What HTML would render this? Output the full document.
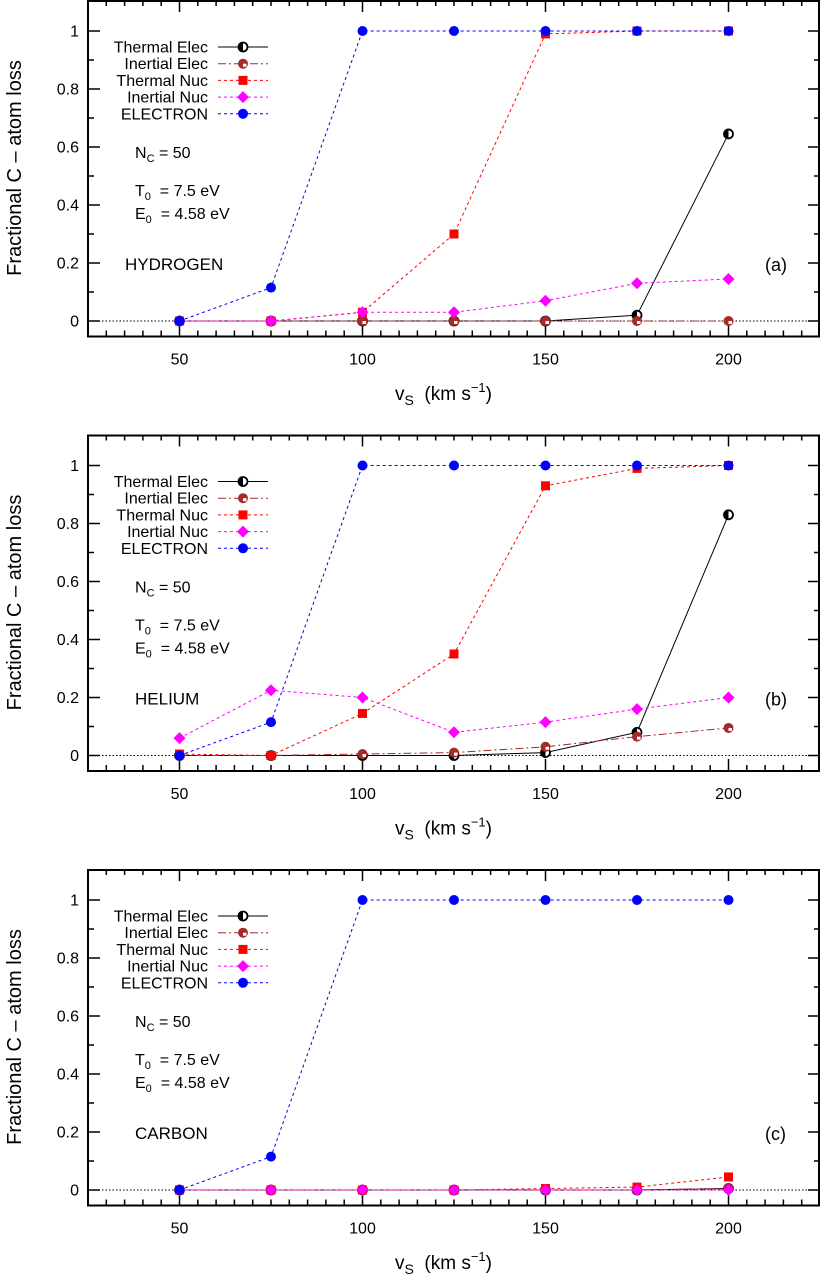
<!DOCTYPE html>
<html><head><meta charset="utf-8"><style>
body{margin:0;background:#fff}
svg{display:block;font-family:"Liberation Sans",sans-serif}
text{white-space:pre}
</style></head><body>
<svg id="c" width="821" height="1277" viewBox="0 0 821 1277"></svg>
<script>
const categories=[50,75,100,125,150,175,200];
const xTicks=[50,100,150,200];
const yTicks=[0,0.2,0.4,0.6,0.8,1];
const yTickLabels=["0","0.2","0.4","0.6","0.8","1"];
const panelNames=["HYDROGEN","HELIUM","CARBON"];
const panelTags=["(a)","(b)","(c)"];
const thermalElecA=[0,0,0,0,0,0.02,0.645];
const inertialElecA=[0,0,0,0,0,0,0];
const thermalNucA=[0,0,0.03,0.30,0.99,1,1];
const inertialNucA=[0,0,0.03,0.03,0.07,0.13,0.145];
const electronA=[0,0.115,1,1,1,1,1];
const thermalElecB=[0,0,0,0,0.01,0.08,0.83];
const inertialElecB=[0,0,0.005,0.01,0.03,0.065,0.095];
const thermalNucB=[0.005,0,0.145,0.35,0.93,0.99,1];
const inertialNucB=[0.06,0.225,0.2,0.08,0.115,0.16,0.2];
const electronB=[0,0.115,1,1,1,1,1];
const thermalElecC=[0,0,0,0,0,0,0.005];
const inertialElecC=[0,0,0,0,0,0,0.005];
const thermalNucC=[0,0,0,0,0.005,0.01,0.045];
const inertialNucC=[0,0,0,0,0,0,0];
const electronC=[0,0.115,1,1,1,1,1];
const panelData=[[thermalElecA,inertialElecA,thermalNucA,inertialNucA,electronA],
[thermalElecB,inertialElecB,thermalNucB,inertialNucB,electronB],
[thermalElecC,inertialElecC,thermalNucC,inertialNucC,electronC]];
const seriesNames=["Thermal Elec","Inertial Elec","Thermal Nuc","Inertial Nuc","ELECTRON"];
const NS="http://www.w3.org/2000/svg";
const svg=document.getElementById('c');
function mk(t,a,p){const e=document.createElementNS(NS,t);for(const k in a)e.setAttribute(k,a[k]);(p||svg).appendChild(e);return e;}
const L=88,R=820,xmin=25,xmax=225;
const styles=[{c:"#000",d:"",draw:"te"},{c:"#a52a2a",d:"8,3,2,3",draw:"ie"},{c:"#ff0000",d:"3,3",draw:"sq"},{c:"#ff00ff",d:"3,3",draw:"di"},{c:"#0000ff",d:"3,3",draw:"ci"}];
function marker(g,type,x,y){
 if(type==="te"){mk('circle',{cx:x,cy:y,r:4.5,fill:'#fff',stroke:'#000','stroke-width':1.8},g);mk('path',{d:`M${x},${y-4.5}A4.5,4.5 0 0 0 ${x},${y+4.5}Z`,fill:'#000'},g);}
 else if(type==="ie"){mk('circle',{cx:x,cy:y,r:5,fill:'#a52a2a'},g);mk('path',{d:`M${x},${y}h3.5v3h-3.5z`,fill:'#fff'},g);}
 else if(type==="sq")mk('rect',{x:x-4.5,y:y-4.5,width:9,height:9,fill:'#ff0000'},g);
 else if(type==="di")mk('path',{d:`M${x},${y-6}L${x+6},${y}L${x},${y+6}L${x-6},${y}Z`,fill:'#ff00ff'},g);
 else mk('circle',{cx:x,cy:y,r:5,fill:'#0000ff'},g);
}
for(let p=0;p<3;p++){
 const off=p*434.5, T=off+0, B=off+336.5;
 const X=v=>L+(v-xmin)/(xmax-xmin)*(R-L);
 const Y=v=>(off+321)-(v)*290;
 const g=mk('g',{});
 
 
 mk('line',{x1:L,x2:R,y1:Y(0),y2:Y(0),stroke:'#000','stroke-dasharray':'1.5,2','stroke-width':1},g);
 for(let v=30;v<=220;v+=5){const big=xTicks.includes(v);const len=big?12:6;
  mk('line',{x1:X(v),x2:X(v),y1:B,y2:B-len,stroke:'#000','stroke-width':1.5},g);
  mk('line',{x1:X(v),x2:X(v),y1:T,y2:T+len,stroke:'#000','stroke-width':1.5},g);}
 xTicks.forEach(v=>{const t=mk('text',{x:X(v),y:B+28,'text-anchor':'middle','font-size':16},g);t.textContent=v;});
 for(let i=0;i<=10;i++){const v=i*0.1;const big=i%2===0;const len=big?12:6;
  mk('line',{x1:L,x2:L+len,y1:Y(v),y2:Y(v),stroke:'#000','stroke-width':1.5},g);
  mk('line',{x1:R,x2:R-len,y1:Y(v),y2:Y(v),stroke:'#000','stroke-width':1.5},g);}
 yTicks.forEach((v,i)=>{const t=mk('text',{x:79,y:Y(v)+5.5,'text-anchor':'end','font-size':16},g);t.textContent=yTickLabels[i];});
 mk('rect',{x:L,y:T+1,width:R-L-1,height:B-T-1,fill:'none',stroke:'#000','stroke-width':2},g);
 panelData[p].forEach((arr,si)=>{const s=styles[si];
  const sg=mk('g',{},g);
  
  
  mk('polyline',{points:arr.map((v,i)=>X(categories[i])+','+Y(v)).join(' '),fill:'none',stroke:s.c,'stroke-width':1,'stroke-dasharray':s.d},sg);
  arr.forEach((v,i)=>marker(sg,s.draw,X(categories[i]),Y(v)));
 });
 const lg=mk('g',{},g);
 
 
 seriesNames.forEach((n,i)=>{const y=off+47+i*16.7;const s=styles[i];
  const t=mk('text',{x:208,y:y+5.5,'text-anchor':'end','font-size':16},lg);t.textContent=n;
  mk('line',{x1:218,x2:268,y1:y,y2:y,stroke:s.c,'stroke-width':1,'stroke-dasharray':s.d},lg);
  marker(lg,s.draw,243,y);});
 const a=mk('text',{x:135,y:off+158,'font-size':16},g);a.innerHTML='N<tspan font-size="11" dy="4">C</tspan><tspan dy="-4"> = 50</tspan>';
 const b=mk('text',{x:135,y:off+196,'font-size':16},g);b.innerHTML='T<tspan font-size="11" dy="4">0</tspan><tspan dy="-4">  = 7.5 eV</tspan>';
 const c=mk('text',{x:135,y:off+219,'font-size':16},g);c.innerHTML='E<tspan font-size="11" dy="4">0</tspan><tspan dy="-4">  = 4.58 eV</tspan>';
 const nm=mk('text',{x:[125,135,135][p],y:off+270,'font-size':17},g);nm.textContent=panelNames[p];
 const tg=mk('text',{x:765,y:off+271,'font-size':18},g);tg.textContent=panelTags[p];
 const xl=mk('text',{x:395,y:off+400,'font-size':19},g);xl.innerHTML='v<tspan font-size="14" dy="5">S</tspan><tspan dy="-5">  (km s</tspan><tspan font-size="13" dy="-8">−1</tspan><tspan dy="8">)</tspan>';
 
 const yl=mk('text',{x:0,y:0,'font-size':20,'text-anchor':'middle',transform:`translate(21,${off+168}) rotate(-90)`},g);yl.textContent='Fractional C – atom loss';
 
}
</script>
</body></html>
